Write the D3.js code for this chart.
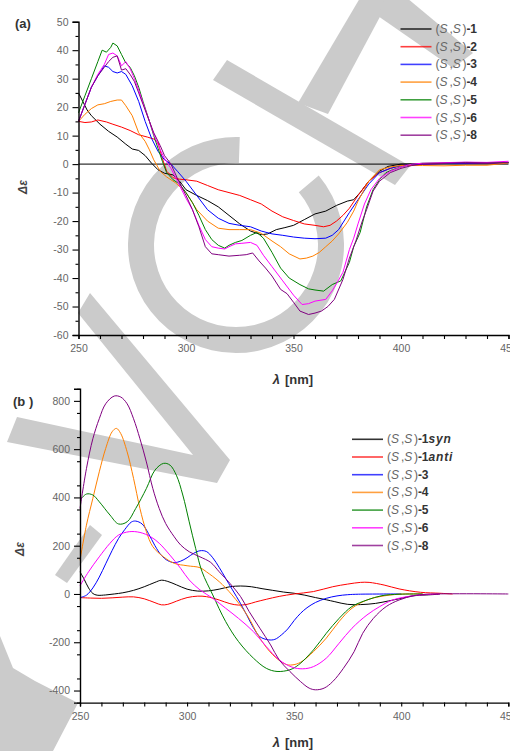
<!DOCTYPE html>
<html><head><meta charset="utf-8">
<script src="https://cdn.jsdelivr.net/npm/d3@7"></script>
<style>
html,body{margin:0;padding:0;background:#fff;}
svg{display:block;font-family:"Liberation Sans",Arial,sans-serif;}
</style></head>
<body>
<script>
// ---------- DATA ----------
const xTicks = [250,260,270,280,290,300,310,320,330,340,350,360,370,380,390,400,410,420,430,440,450];
const yTicksA = [50,40,30,20,10,0,-10,-20,-30,-40,-50,-60];
const yTicksB = [800,600,400,200,0,-200,-400];

const seriesNamesA = ["-1","-2","-3","-4","-5","-6","-8"];
const seriesNamesB = ["-1syn","-1anti","-3","-4","-5","-6","-8"];
const colors = ["#000000","#ff0000","#0000ff","#ff8000","#008000","#ff00ff","#800080"];

// panel (a) : [nm, Δε]
const a1 = [[250,25],[252,22],[254,19],[256,17],[260,14],[264,11.5],[268,9.5],[272,7],[275,5.3],[278,4.8],[281,3],[284,0.3],[287,-2],[290,-3.2],[294,-3.8],[297,-6],[300,-9],[305,-11],[310,-12.8],[315,-15],[320,-18],[325,-21],[330,-23.5],[335,-24.8],[338,-24.5],[342,-23],[346,-22.3],[350,-21.5],[355,-19.5],[360,-17.5],[365,-16.5],[370,-14.5],[375,-13],[378,-12.5],[381,-10],[385,-6],[390,-2.5],[394,-0.8],[400,0],[410,0.2],[420,0.3],[430,0.2],[440,0.3],[450,0.5]];
const a2 = [[250,15],[253,14.6],[256,14.8],[259,15.5],[263,14.8],[266,14],[270,13],[274,11.8],[278,10.3],[282,9.5],[285,8.8],[287,7.5],[289,2],[291,-2.5],[294,-4.8],[297,-5.3],[300,-5.5],[305,-6],[310,-7.5],[315,-9],[320,-10],[325,-11],[330,-12.5],[335,-14],[340,-16.5],[345,-18.5],[350,-19.8],[355,-21],[360,-21.5],[364,-22],[367,-21.5],[370,-20],[373,-18],[376,-15.5],[380,-11],[385,-6],[390,-3],[395,-1.5],[400,-0.5],[410,0],[420,0.2],[430,0.3],[440,0.3],[450,0.6]];
const a3 = [[250,15],[253,21],[256,27],[259,31],[262,34.5],[264,34],[266,32.5],[268,32],[270,32.5],[272,31.5],[275,27.5],[278,22],[281,15],[284,9],[287,4.5],[290,1.5],[293,0],[296,-2.5],[300,-6],[305,-11],[310,-16],[315,-19],[320,-20.8],[325,-21.5],[330,-22],[335,-23.5],[340,-24.5],[345,-25],[350,-25.6],[355,-26],[360,-26.2],[365,-26],[368,-25],[371,-23],[376,-17],[380,-12.5],[385,-7],[390,-3],[395,-1.5],[400,-0.5],[410,0],[420,0.2],[430,0.3],[440,0.4],[450,0.5]];
const a4 = [[250,15],[253,17.5],[256,19.5],[259,20.8],[262,21.2],[265,22],[268,22.5],[270,22.5],[272,20.5],[275,17],[278,11],[281,8],[283,5],[285,1.5],[288,-2.5],[291,-4.5],[295,-6.5],[298,-8.5],[300,-10],[305,-16],[310,-20],[315,-22.5],[320,-23],[325,-23],[330,-23],[335,-24.3],[340,-27],[344,-29],[348,-31.5],[353,-33.3],[356,-33],[359,-32.3],[362,-31],[365,-29],[368,-27],[371,-24.5],[375,-20.5],[378,-16.5],[380,-13],[385,-6],[390,-2],[395,-1],[400,-0.5],[410,-0.5],[420,-0.6],[430,-0.4],[440,-0.4],[450,0.4]];
const a5 = [[250,18],[253,24],[256,30],[259,36],[261,40],[263,39.3],[265,41],[266,42.5],[268,41.5],[270,38.5],[272,35.5],[274,34],[276,31],[278,27],[280,22],[283,15],[285,10],[287,5.5],[289,1],[291,-3],[294,-5.5],[297,-7],[300,-10],[303,-13.5],[306,-18],[309,-23],[312,-26.5],[315,-28.5],[318,-29.5],[320,-28.5],[323,-27.5],[326,-26.8],[330,-25],[333,-24],[336,-26],[340,-31],[344,-36.5],[348,-40],[353,-42.3],[357,-43.8],[360,-44.2],[364,-44.6],[368,-42.3],[372,-41],[376,-34.5],[378,-29],[381,-24],[384,-15],[387,-9],[390,-5.5],[393,-3],[396,-2],[400,-1],[405,0],[410,0.3],[420,0.4],[430,0.6],[440,0.5],[450,0.6]];
const a6 = [[250,15],[253,21],[256,27],[259,31.5],[262,35],[264,38.5],[266,39],[268,38],[270,34.5],[272,36],[274,33.5],[276,30],[278,26],[280,21.5],[283,15],[285,10.5],[288,5],[290,2],[293,-1.5],[296,-6],[300,-12],[303,-16],[306,-21.5],[309,-26.5],[312,-29],[315,-29.5],[318,-29.8],[320,-29],[323,-28],[326,-27.8],[330,-27.5],[333,-28.5],[336,-32],[340,-36],[345,-41],[350,-46],[354,-49.3],[357,-49],[360,-48.1],[365,-47.5],[368,-44.5],[370,-42],[373,-38],[376,-30],[378,-26],[380,-21],[383,-14],[386,-9],[390,-5],[395,-2.5],[400,-1],[405,0],[410,0.3],[420,0.5],[430,0.7],[440,0.6],[450,1]];
const a8 = [[250,15],[253,21],[256,27],[259,31],[262,34],[264,36],[266,37.5],[268,38],[270,33],[272,33.5],[274,31.5],[276,29],[278,25],[280,21],[283,15],[285,11],[288,6.5],[290,3],[293,0],[296,-5],[300,-11],[303,-16],[306,-22],[309,-29],[312,-31.5],[315,-31.8],[320,-32.3],[325,-32],[328,-31.8],[331,-31.2],[334,-34],[337,-36.5],[340,-39.3],[344,-44],[347,-45.5],[350,-48.5],[353,-51.6],[357,-52.8],[360,-52.3],[363,-51.6],[366,-50],[369,-47.5],[373,-40.5],[376,-33],[379,-27],[382,-20],[384,-16],[387,-9.5],[390,-6],[395,-3],[400,-1.5],[405,-0.5],[410,0],[420,0.3],[430,0.5],[440,0.4],[450,0.5]];

// panel (b) : [nm, Δε]
const b1syn = [[250,92],[252,60],[254,25],[256,2],[258,-5],[262,-4],[266,0],[270,5],[275,15],[280,30],[285,48],[288,57],[291,52],[295,38],[300,20],[305,12],[310,13],[315,20],[320,30],[325,33],[330,30],[335,22],[340,15],[345,8],[350,3],[355,-5],[360,-15],[365,-24],[369,-32],[375,-43],[381,-44],[388,-39],[394,-29],[400,-18],[405,-8],[412,-4],[418,-1]];
const b1anti = [[250,-15],[255,-17],[260,-18],[265,-16],[270,-13],[275,-12],[280,-20],[285,-36],[288,-45],[291,-43],[295,-30],[300,-15],[305,-9],[309,-11],[315,-25],[320,-40],[324,-46],[328,-43],[332,-33],[337,-22],[343,-10],[350,0],[359,10],[368,30],[375,41],[381,48],[385,48],[392,37],[399,21],[409,7],[418,3],[424,0]];
const b3 = [[250,-15],[253,-5],[256,25],[259,70],[262,125],[265,180],[268,230],[271,268],[274,298],[276,302],[279,290],[282,250],[285,200],[288,160],[291,138],[294,130],[297,136],[300,150],[303,168],[306,179],[309,176],[312,150],[315,110],[318,65],[321,20],[325,-40],[328,-90],[331,-140],[334,-177],[338,-190],[341,-188],[344,-170],[347,-145],[350,-110],[353,-80],[356,-57],[360,-35],[365,-18],[370,-8],[375,-3],[380,-1],[400,0]];
const b4 = [[250,140],[253,285],[256,396],[259,506],[262,603],[265,672],[267,686],[269,665],[272,589],[275,479],[278,354],[281,258],[284,196],[289,154],[294,127],[300,117],[306,109],[309,92],[315,51],[321,-4],[328,-87],[334,-183],[340,-252],[346,-291],[349,-294],[353,-283],[359,-239],[365,-183],[371,-114],[377,-59],[384,-25],[390,-11],[399,-1],[410,0]];
const b5 = [[250,389],[253,414],[256,410],[259,382],[264,327],[268,290],[272,299],[276,354],[281,437],[285,513],[289,541],[292,534],[295,492],[298,410],[301,299],[304,189],[307,92],[312,-4],[318,-114],[324,-197],[331,-266],[337,-308],[342,-321],[348,-314],[352,-294],[359,-232],[365,-163],[371,-101],[377,-52],[384,-25],[391,-7],[399,-1],[410,0]];
const b6 = [[250,34],[254,92],[259,154],[264,210],[268,244],[273,258],[278,255],[283,237],[287,210],[292,161],[297,106],[301,58],[306,17],[312,-18],[318,-59],[324,-101],[331,-156],[337,-218],[343,-273],[349,-303],[354,-310],[359,-301],[365,-266],[371,-204],[377,-142],[384,-87],[390,-52],[396,-25],[405,-8],[415,-1],[418,0]];
const b8 = [[250,354],[253,519],[256,643],[259,726],[262,788],[266,820],[269,816],[272,788],[275,726],[278,643],[281,547],[284,437],[287,354],[290,292],[294,237],[297,203],[301,175],[306,154],[311,131],[315,92],[320,44],[325,-11],[329,-73],[334,-142],[339,-211],[343,-273],[348,-321],[353,-363],[357,-390],[360,-397],[364,-390],[368,-363],[373,-308],[378,-239],[382,-163],[387,-101],[393,-52],[399,-25],[406,-7],[412,-1],[450,0]];

const dataA = [a1,a2,a3,a4,a5,a6,a8];
const dataB = [b1syn,b1anti,b3,b4,b5,b6,b8];

// ---------- DRAW ----------
const W = 510, H = 751;
const svg = d3.select("body").append("svg").attr("width", W).attr("height", H);

// watermark (background)
const wm = svg.append("g").attr("fill", "#cbcbcb");
const polys = [
  [[227,60],[410,166],[395,185],[213,80]],
  [[360,-2],[390,-2],[328,114],[298,103]],
  [[385,-2],[407,-2],[473,53],[453,68],[378,16]],
  [[90,293],[230,460],[217,483],[7,442],[17,417],[193,455],[78,313]],
  [[90,525],[102,535],[67,583],[55,575]],
  [[0,636],[13,668],[35,681],[78,703],[53,751],[0,751]]
];
polys.forEach(p => wm.append("path").attr("d", "M" + p.map(q => q.join(",")).join("L") + "Z"));
wm.append("path")
  .attr("transform", "translate(236,245)")
  .attr("d", d3.arc()({innerRadius: 82, outerRadius: 108, startAngle: 50*Math.PI/180, endAngle: 362*Math.PI/180}));

function panel(cfg) {
  const x = d3.scaleLinear().domain([250, 450]).range([cfg.x0, cfg.x1]);
  const y = d3.scaleLinear().domain(cfg.ydom).range([cfg.yb, cfg.yt]);
  const g = svg.append("g");

  if (cfg.zero) {
    g.append("line").attr("x1", x(250)).attr("x2", x(450)).attr("y1", y(0)).attr("y2", y(0))
      .attr("stroke", "#000").attr("stroke-width", 1);
  }

  const line = d3.line().x(d => x(d[0])).y(d => y(d[1])).curve(cfg.curve);
  cfg.data.forEach((s, i) => {
    g.append("path").attr("d", line(s)).attr("fill", "none")
      .attr("stroke", colors[i]).attr("stroke-width", 1).attr("stroke-linejoin", "round");
  });

  g.append("g").attr("transform", `translate(0,${cfg.yb})`)
    .call(d3.axisBottom(x).tickValues(xTicks).tickSize(4).tickPadding(6)
      .tickFormat(d => d % 50 === 0 ? d : ""));
  const minor = d3.range(cfg.ydom[0], cfg.ydom[1] + 0.001, cfg.minorStep)
    .filter(v => !cfg.yticks.includes(v));
  g.append("g").attr("transform", `translate(${cfg.x0},0)`)
    .call(d3.axisLeft(y).tickValues(minor).tickSize(3).tickFormat(""))
    .select(".domain").remove();
  g.append("g").attr("transform", `translate(${cfg.x0},0)`)
    .call(d3.axisLeft(y).tickValues(cfg.yticks).tickSize(6).tickPadding(4).tickFormat(d => String(d)));
  g.selectAll(".domain").attr("stroke", "#000").attr("stroke-width", 1.4);
  g.selectAll(".tick line").attr("stroke", "#000").attr("stroke-width", 1.1);
  g.selectAll(".tick text").attr("fill", "#666").attr("font-size", 10.5)
    .attr("font-family", "Liberation Sans, Arial, sans-serif");

  g.append("text").attr("x", 293).attr("y", cfg.xlabY).attr("text-anchor", "middle")
    .attr("font-size", 13).attr("fill", "#333").attr("font-weight", "bold")
    .call(t => {
      t.append("tspan").attr("font-style", "italic").text("λ");
      t.append("tspan").attr("dx", 5).text("[nm]");
    });
  g.append("text").attr("transform", `translate(${cfg.ylabX},${cfg.ylabY}) rotate(-90)`)
    .attr("text-anchor", "middle").attr("font-size", 12).attr("font-style", "italic")
    .attr("font-weight", "bold").attr("fill", "#444").text("Δε");

  g.append("text").attr("x", cfg.labX).attr("y", cfg.labY).attr("font-size", 13)
    .attr("font-weight", "bold").attr("fill", "#333").text(cfg.label);

  const lg = g.append("g");
  cfg.names.forEach((n, i) => {
    const yy = cfg.legY + i * 17.7;
    lg.append("line").attr("x1", cfg.legX).attr("x2", cfg.legX + 31).attr("y1", yy).attr("y2", yy)
      .attr("stroke", colors[i]).attr("stroke-width", 1.6).attr("stroke-opacity", i === 0 ? 0.8 : 0.75);
    const t = lg.append("text").attr("x", cfg.legX + 35).attr("y", yy + 4).attr("font-size", 12);
    t.append("tspan").attr("fill", "#666").text("(");
    t.append("tspan").attr("fill", "#666").attr("font-style", "italic").text("S");
    t.append("tspan").attr("fill", "#666").attr("dx", 2).text(",");
    t.append("tspan").attr("fill", "#666").attr("font-style", "italic").text("S");
    t.append("tspan").attr("fill", "#666").attr("dx", 1.5).text(")");
    const m = n.match(/^(-\d)(.*)$/);
    t.append("tspan").attr("fill", "#333").attr("font-weight", "bold").text(m[1]);
    if (m[2]) t.append("tspan").attr("fill", "#333").attr("font-weight", "bold")
      .attr("font-style", "italic").attr("letter-spacing", 0.8).text(m[2]);
  });
}

panel({x0: 78.5, x1: 508.5, yb: 335, yt: 21.7, ydom: [-60, 50], yticks: yTicksA, minorStep: 5,
  data: dataA, curve: d3.curveLinear, zero: true, names: seriesNamesA,
  xlabY: 384, ylabX: 27, ylabY: 187, label: "(a)", labX: 15, labY: 28, legX: 400.5, legY: 29});

panel({x0: 80, x1: 508.3, yb: 702.6, yt: 388.8, ydom: [-450, 850], yticks: yTicksB, minorStep: 100,
  data: dataB, curve: d3.curveCatmullRom, zero: false, names: seriesNamesB,
  xlabY: 747, ylabX: 24, ylabY: 549, label: "(b )", labX: 13, labY: 406, legX: 352, legY: 439.3});
</script>
</body></html>
